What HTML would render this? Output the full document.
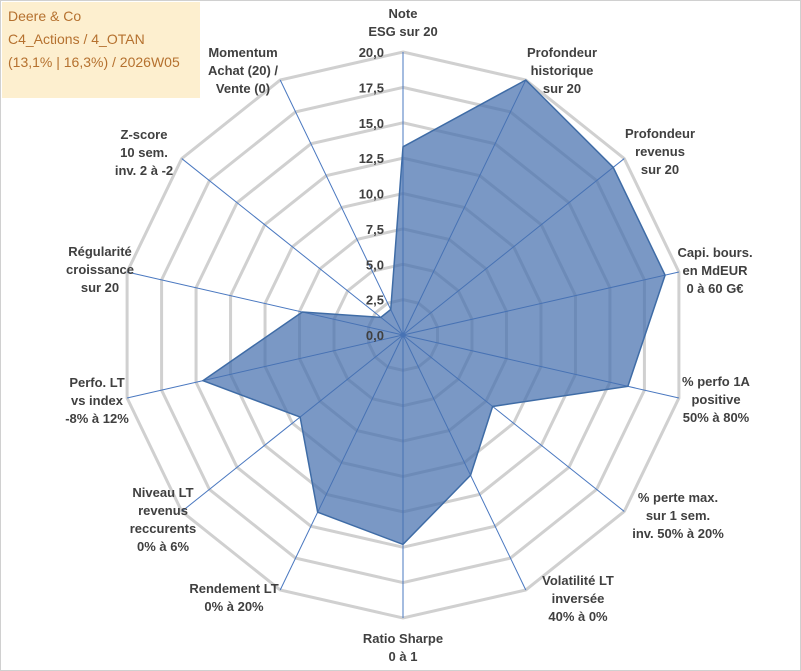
<!DOCTYPE html>
<html><head><meta charset="utf-8">
<style>
body{margin:0;background:#fff;width:801px;height:671px;overflow:hidden;font-family:"Liberation Sans",sans-serif}
#frame{position:absolute;left:0;top:0;width:799px;height:669px;border:1px solid #d0d0d0}
#title{position:absolute;left:2px;top:2px;width:198px;height:96px;background:#fdefcf;color:#b5712f;font-size:14px;line-height:23px;padding:3px 0 0 6px;box-sizing:border-box}
svg text{font-family:"Liberation Sans",sans-serif;font-weight:bold;font-size:13px;fill:#404040}
</style></head><body>
<div id="frame"></div>
<div id="title">Deere &amp; Co<br>C4_Actions / 4_OTAN<br>(13,1% | 16,3%) / 2026W05</div>
<svg id="chart" width="801" height="671" style="position:absolute;left:0;top:0"></svg>
<script>
const categories=[["Note","ESG sur 20"],["Profondeur","historique","sur 20"],["Profondeur","revenus","sur 20"],["Capi. bours.","en MdEUR","0 à 60 G€"],["% perfo 1A","positive","50% à 80%"],["% perte max.","sur 1 sem.","inv. 50% à 20%"],["Volatilité LT","inversée","40% à 0%"],["Ratio Sharpe","0 à 1"],["Rendement LT","0% à 20%"],["Niveau LT","revenus","reccurents","0% à 6%"],["Perfo. LT","vs index","-8% à 12%"],["Régularité","croissance","sur 20"],["Z-score","10 sem.","inv. 2 à -2"],["Momentum","Achat (20) /","Vente (0)"]];
const values=[13.3,20,19,19,16.3,8.1,11,14.8,13.9,9.3,14.5,7.3,2,2];
const ticks=["0,0","2,5","5,0","7,5","10,0","12,5","15,0","17,5","20,0"];
const labelPos=[[403,18],[562,57],[660,138],[715,257],[716,386],[678,502],[578,585],[403,643],[234,593],[163,497],[97,387],[100,256],[144,139],[243,57]];
const maxV=20,cx=403,cy=335,R=283;
const svg=document.getElementById('chart');const NS="http://www.w3.org/2000/svg";
const n=categories.length;
function ang(i){return i*2*Math.PI/n;}
function pt(i,v){const r=v/maxV*R;return [cx+r*Math.sin(ang(i)),cy-r*Math.cos(ang(i))];}
function mk(t,a){const e=document.createElementNS(NS,t);for(const k in a)e.setAttribute(k,a[k]);svg.appendChild(e);return e;}
for(let k=1;k<ticks.length;k++){const v=k*maxV/(ticks.length-1);
 const p=mk('polygon',{points:categories.map((c,i)=>pt(i,v).join(',')).join(' '),fill:'none',stroke:'#d0d0d0','stroke-width':3});
 
 }
categories.forEach((c,i)=>{const [x,y]=pt(i,maxV);const l=mk('line',{x1:cx,y1:cy,x2:x,y2:y,stroke:'#4a78c0','stroke-width':1});
 
 });
const poly=mk('polygon',{points:values.map((v,i)=>pt(i,v).join(',')).join(' '),fill:'rgba(70,112,175,0.72)',stroke:'#3f6ca6','stroke-width':1.5});


ticks.forEach((t,k)=>{const v=k*maxV/(ticks.length-1);const y=cy-v/maxV*R;
 const e=mk('text',{x:384,y:y+5,'text-anchor':'end'});e.textContent=t;
 
 });
categories.forEach((lines,i)=>{const [x,y0]=labelPos[i];
 const g=mk('text',{x:x,y:y0,'text-anchor':'middle'});
 
 
 lines.forEach((l,j)=>{const ts=document.createElementNS(NS,'tspan');ts.setAttribute('x',x);ts.setAttribute('dy',j?18:0);ts.textContent=l;g.appendChild(ts);});});
</script>
</body></html>
